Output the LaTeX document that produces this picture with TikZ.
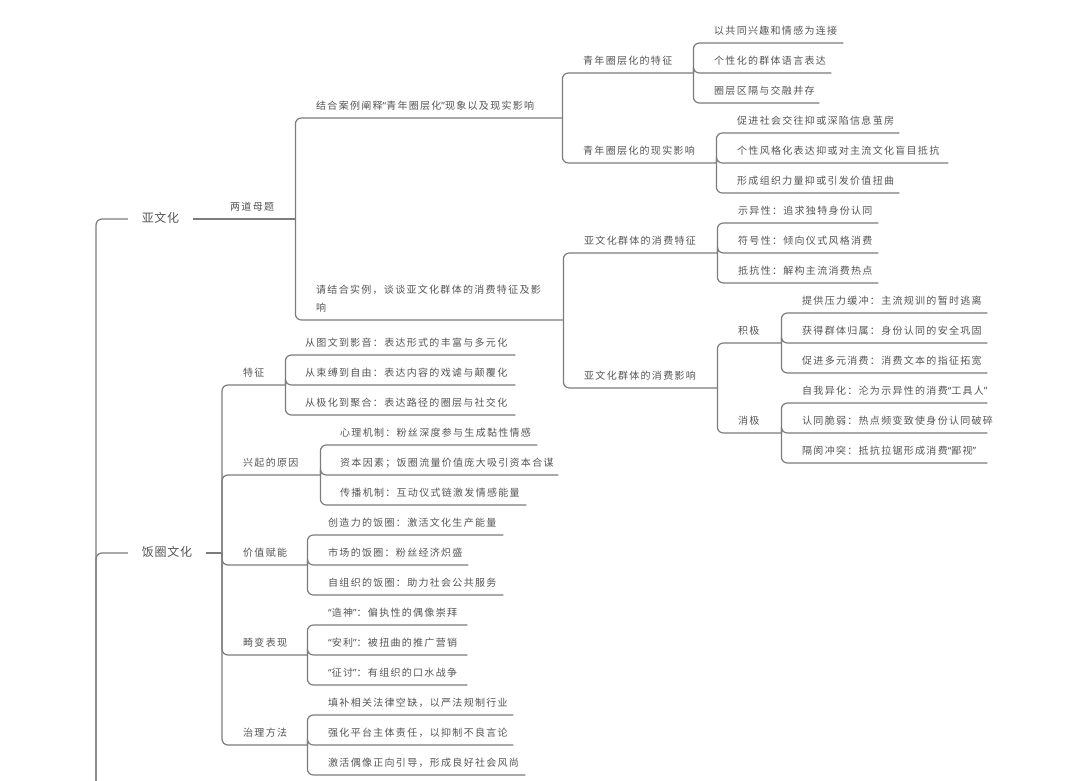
\documentclass[tikz,border=0pt]{standalone}
\usepackage{fontspec}
\setmainfont{Noto Sans CJK SC}[LetterSpace=13]
\newfontfamily\bigf{Noto Sans CJK SC}[LetterSpace=6]
\newfontfamily\latq{Noto Sans}[LetterSpace=13]
\newcommand\qo{{\latq “}}
\newcommand\qc{{\latq ”}}
\definecolor{lc}{HTML}{7C7C7C}
\definecolor{tc}{HTML}{555555}
\tikzset{
  tn/.style={anchor=south west, inner sep=0pt, text width=#1pt, align=left,
    text height=9pt, text depth=8.2pt, text=tc, font=\fontsize{10}{12}\selectfont},
  top/.style={inner sep=0pt, minimum width=#1pt, text height=9pt, text depth=2pt,
    text=tc, font=\bigf\fontsize{12}{14}\selectfont},
  conn/.style={draw=lc, line width=1.2pt, rounded corners=6pt},
}
\begin{document}
\begin{tikzpicture}[x=1pt,y=-1pt]
\fill[white] (0,0) rectangle (1080,781);
\clip (0,0) rectangle (1080,781);
\coordinate (root) at (96,900);
% level 1
\node[top=65] (yw) at (160.5,219) {亚文化};
\node[top=78] (fq) at (167,553) {饭圈文化};
\coordinate (fqj) at (222,553);
% level 2 (亚文化)
\node[tn=65] (ldmt) at (230,219) {两道母题};
\node[tn=246] (c1) at (316,118) {结合案例阐释\qo 青年圈层化\qc 现象以及现实影响};
\node[tn=247, text depth=26.2pt] (c2) at (316,320) {请结合实例，谈谈亚文化群体的消费特征及影\\[6pt]响};
\node[tn=110] (qt) at (583,73) {青年圈层化的特征};
\node[tn=133] (qy) at (583,163) {青年圈层化的现实影响};
\node[tn=129] (qt1) at (714,43) {以共同兴趣和情感为连接};
\node[tn=117] (qt2) at (714,73) {个性化的群体语言表达};
\node[tn=105] (qt3) at (714,103) {圈层区隔与交融并存};
\node[tn=162] (qy1) at (737,133) {促进社会交往抑或深陷信息茧房};
\node[tn=211] (qy2) at (737,163) {个性风格化表达抑或对主流文化盲目抵抗};
\node[tn=162] (qy3) at (737,193) {形成组织力量抑或引发价值扭曲};
\node[tn=133] (xt) at (584,253) {亚文化群体的消费特征};
\node[tn=133] (xy) at (584,388) {亚文化群体的消费影响};
\node[tn=140] (xt1) at (738,223) {示异性：追求独特身份认同};
\node[tn=140] (xt2) at (738,253) {符号性：倾向仪式风格消费};
\node[tn=140] (xt3) at (738,283) {抵抗性：解构主流消费热点};
\node[tn=43] (jj) at (738,343) {积极};
\node[tn=43] (xj) at (738,433) {消极};
\node[tn=185] (jj1) at (802,313) {提供压力缓冲：主流规训的暂时逃离};
\node[tn=185] (jj2) at (802,343) {获得群体归属：身份认同的安全巩固};
\node[tn=185] (jj3) at (802,373) {促进多元消费：消费文本的指征拓宽};
\node[tn=185] (xj1) at (802,403) {自我异化：沦为示异性的消费\qo 工具人\qc};
\node[tn=185] (xj2) at (802,433) {认同脆弱：热点频变致使身份认同破碎};
\node[tn=185] (xj3) at (802,463) {隔阂冲突：抵抗拉锯形成消费\qo 鄙视\qc};
% level 2 (饭圈文化)
\node[tn=42] (tz) at (243,385) {特征};
\node[tn=77] (xq) at (243,475) {兴起的原因};
\node[tn=64] (jz) at (243,565) {价值赋能};
\node[tn=64] (jb) at (243,655) {畸变表现};
\node[tn=64] (zl) at (243,745) {治理方法};
\node[tn=210] (tz1) at (305,355) {从图文到影音：表达形式的丰富与多元化};
\node[tn=210] (tz2) at (305,385) {从束缚到自由：表达内容的戏谑与颠覆化};
\node[tn=210] (tz3) at (305,415) {从极化到聚合：表达路径的圈层与社交化};
\node[tn=197] (xq1) at (340,445) {心理机制：粉丝深度参与生成黏性情感};
\node[tn=218] (xq2) at (340,475) {资本因素；饭圈流量价值庞大吸引资本合谋};
\node[tn=186] (xq3) at (340,505) {传播机制：互动仪式链激发情感能量};
\node[tn=175] (jz1) at (328,535) {创造力的饭圈：激活文化生产能量};
\node[tn=140] (jz2) at (328,565) {市场的饭圈：粉丝经济炽盛};
\node[tn=175] (jz3) at (328,595) {自组织的饭圈：助力社会公共服务};
\node[tn=139] (jb1) at (328,625) {\qo 造神\qc：偏执性的偶像崇拜};
\node[tn=139] (jb2) at (328,655) {\qo 安利\qc：被扭曲的推广营销};
\node[tn=139] (jb3) at (328,685) {\qo 征讨\qc：有组织的口水战争};
\node[tn=185] (zl1) at (328,715) {填补相关法律空缺，以严法规制行业};
\node[tn=185] (zl2) at (328,745) {强化平台主体责任，以抑制不良言论};
\node[tn=197] (zl3) at (328,775) {激活偶像正向引导，形成良好社会风尚};
% connectors
\draw[conn] (root) |- (yw.west);
\draw[conn] (root) |- (fq.west);
\draw[conn] (yw.east) -- (ldmt.south east);
\foreach \c in {c1,c2} \draw[conn] (ldmt.south east) |- (\c.south east);
\foreach \c in {qt,qy} \draw[conn] (c1.south east) |- (\c.south east);
\foreach \c in {qt1,qt2,qt3} \draw[conn] (qt.south east) |- (\c.south east);
\foreach \c in {qy1,qy2,qy3} \draw[conn] (qy.south east) |- (\c.south east);
\foreach \c in {xt,xy} \draw[conn] (c2.south east) |- (\c.south east);
\foreach \c in {xt1,xt2,xt3} \draw[conn] (xt.south east) |- (\c.south east);
\foreach \c in {jj,xj} \draw[conn] (xy.south east) |- (\c.south east);
\foreach \c in {jj1,jj2,jj3} \draw[conn] (jj.south east) |- (\c.south east);
\foreach \c in {xj1,xj2,xj3} \draw[conn] (xj.south east) |- (\c.south east);
\draw[conn] (fq.east) -- (fqj);
\foreach \c in {tz,xq,jz,jb,zl} \draw[conn] (fqj) |- (\c.south east);
\foreach \c in {tz1,tz2,tz3} \draw[conn] (tz.south east) |- (\c.south east);
\foreach \c in {xq1,xq2,xq3} \draw[conn] (xq.south east) |- (\c.south east);
\foreach \c in {jz1,jz2,jz3} \draw[conn] (jz.south east) |- (\c.south east);
\foreach \c in {jb1,jb2,jb3} \draw[conn] (jb.south east) |- (\c.south east);
\foreach \c in {zl1,zl2,zl3} \draw[conn] (zl.south east) |- (\c.south east);
\end{tikzpicture}
\end{document}
